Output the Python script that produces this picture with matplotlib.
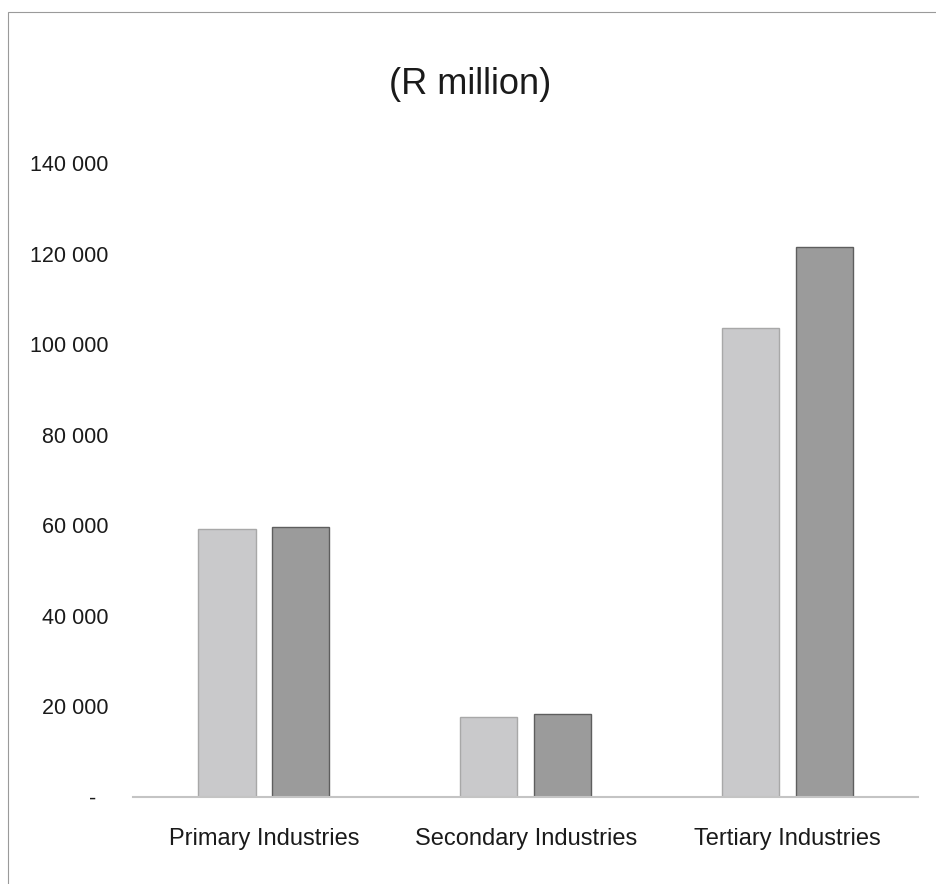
import matplotlib.pyplot as plt
from matplotlib.patches import Rectangle
from matplotlib.ticker import FuncFormatter
import numpy as np

# Data (R million)
categories = ["Primary Industries", "Secondary Industries", "Tertiary Industries"]
series_a = [59100, 17700, 103500]
series_b = [59700, 18400, 121500]
y_ticks = [0, 20000, 40000, 60000, 80000, 100000, 120000, 140000]

plt.rcParams["font.family"] = ["Liberation Sans", "DejaVu Sans"]

fig = plt.figure(figsize=(9.37, 8.84), dpi=100)
ax = fig.add_axes([0.142, 0.0984, 0.838, 0.7172])

# chart-area frame
fig.patches.append(Rectangle((0.0085, -0.05), 1.2, 1.036, transform=fig.transFigure,
                             fill=False, edgecolor="#9a9a9a", linewidth=0.8))

x = np.arange(len(categories))
width = 0.218
offset = 0.141

ax.bar(x - offset, series_a, width, color="#c9c9cb", edgecolor="#a8a8a8", linewidth=1.0)
ax.bar(x + offset, series_b, width, color="#9b9b9b", edgecolor="#5e5e5e", linewidth=1.0)

ax.set_xlim(-0.5, 2.5)
ax.set_ylim(0, 140000)
ax.set_yticks(y_ticks)


def fmt(v, pos):
    if v == 0:
        return "-  "
    return f"{int(v):,}".replace(",", " ")


ax.yaxis.set_major_formatter(FuncFormatter(fmt))
ax.set_xticks(x)
ax.set_xticklabels(categories)

for s in ["top", "right", "left"]:
    ax.spines[s].set_visible(False)
ax.spines["bottom"].set_color("#c4c4c4")
ax.spines["bottom"].set_linewidth(1.5)

ax.tick_params(axis="y", length=0, pad=18, labelsize=15.5, labelcolor="#1a1a1a")
ax.tick_params(axis="x", length=0, pad=22, labelsize=17, labelcolor="#1a1a1a")

fig.text(0.502, 0.904, "(R million)", ha="center", va="center", fontsize=26, color="#1a1a1a")

fig.savefig("out.png", dpi=100)
